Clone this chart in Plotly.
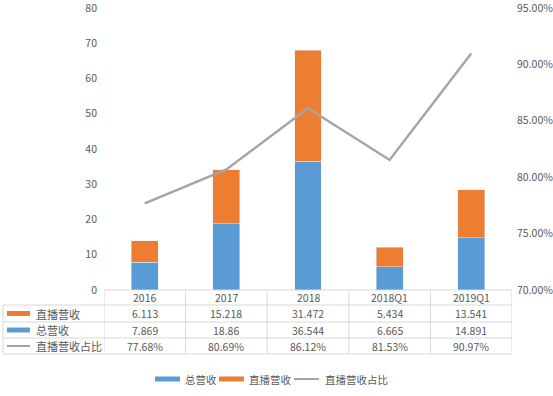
import plotly.graph_objects as go

categories = ["2016", "2017", "2018", "2018Q1", "2019Q1"]
live_rev = [6.113, 15.218, 31.472, 5.434, 13.541]      # 直播营收
total_rev = [7.869, 18.86, 36.544, 6.665, 14.891]      # 总营收
live_ratio = [0.7768, 0.8069, 0.8612, 0.8153, 0.9097]  # 直播营收占比

W, H = 553, 396
def px(x): return x / W
def py(y): return 1 - y / H

BLUE, ORANGE, GRAY = "#5B9BD5", "#ED7D31", "#A5A5A5"
TXT = "#595959"
GRID = "#D9D9D9"
FONT = "Noto Sans CJK SC"

PLOT_L, PLOT_R, PLOT_T, PLOT_B = 104, 512, 8, 290

fig = go.Figure()
fig.add_trace(go.Bar(x=categories, y=total_rev, name="总营收", marker_color=BLUE,
                     width=0.33, yaxis="y"))
fig.add_trace(go.Bar(x=categories, y=live_rev, name="直播营收", marker_color=ORANGE,
                     width=0.33, yaxis="y"))
fig.add_trace(go.Scatter(x=categories, y=live_ratio, name="直播营收占比", mode="lines",
                         line=dict(color=GRAY, width=2.5), yaxis="y2"))

shapes = []
annotations = []
rows = [
    ("直播营收", [str(v) for v in live_rev], "bar", ORANGE),
    ("总营收", [str(v) for v in total_rev], "bar", BLUE),
    ("直播营收占比", [f"{v*100:.2f}%" for v in live_ratio], "line", GRAY),
]
HEAD_B = 305
row_edges = [305, 322, 338, 354]
LEFT_EDGE = 3

# horizontal table lines
shapes.append(dict(type="line", xref="paper", yref="paper", x0=px(PLOT_L), x1=px(PLOT_R),
                   y0=py(PLOT_B), y1=py(PLOT_B), line=dict(color=GRID, width=1)))
for yt in row_edges:
    shapes.append(dict(type="line", xref="paper", yref="paper", x0=px(LEFT_EDGE), x1=px(PLOT_R),
                       y0=py(yt), y1=py(yt), line=dict(color=GRID, width=1)))
# vertical table lines
shapes.append(dict(type="line", xref="paper", yref="paper", x0=px(LEFT_EDGE), x1=px(LEFT_EDGE),
                   y0=py(row_edges[0]), y1=py(row_edges[-1]), line=dict(color=GRID, width=1)))
for i in range(len(categories) + 1):
    shapes.append(dict(type="line", xref="x", yref="paper", x0=i - 0.5, x1=i - 0.5,
                       y0=py(PLOT_B), y1=py(row_edges[-1]), line=dict(color=GRID, width=1)))

# header
for i, c in enumerate(categories):
    annotations.append(dict(x=i, y=py((PLOT_B + HEAD_B) / 2), xref="x", yref="paper", text=c,
                            showarrow=False, xanchor="center", yanchor="middle",
                            font=dict(family=FONT, size=10.5, color=TXT)))
for k, (label, vals, kind, col) in enumerate(rows):
    yc = (row_edges[k] + row_edges[k + 1]) / 2
    if kind == "bar":
        shapes.append(dict(type="rect", xref="paper", yref="paper", x0=px(7), x1=px(30),
                           y0=py(yc - 2.5), y1=py(yc + 2.5), fillcolor=col, line=dict(width=0)))
    else:
        shapes.append(dict(type="line", xref="paper", yref="paper", x0=px(7), x1=px(30),
                           y0=py(yc), y1=py(yc), line=dict(color=col, width=2)))
    annotations.append(dict(x=px(34), y=py(yc), xref="paper", yref="paper", text=label,
                            showarrow=False, xanchor="left", yanchor="middle",
                            font=dict(family=FONT, size=11, color=TXT)))
    for i, v in enumerate(vals):
        annotations.append(dict(x=i, y=py(yc), xref="x", yref="paper", text=v, showarrow=False,
                                xanchor="center", yanchor="middle",
                                font=dict(family=FONT, size=10.5, color=TXT)))

# bottom legend
leg_y = 379
legend_items = [("总营收", "bar", BLUE, 155, 183), ("直播营收", "bar", ORANGE, 219, 247),
                ("直播营收占比", "line", GRAY, 294, 323)]
for name, kind, col, x0, xt in legend_items:
    if kind == "bar":
        shapes.append(dict(type="rect", xref="paper", yref="paper", x0=px(x0), x1=px(x0 + 25),
                           y0=py(leg_y - 2.5), y1=py(leg_y + 2.5), fillcolor=col, line=dict(width=0)))
    else:
        shapes.append(dict(type="line", xref="paper", yref="paper", x0=px(x0), x1=px(x0 + 25),
                           y0=py(leg_y), y1=py(leg_y), line=dict(color=col, width=2)))
    annotations.append(dict(x=px(xt), y=py(leg_y), xref="paper", yref="paper", text=name,
                            showarrow=False, xanchor="left", yanchor="middle",
                            font=dict(family=FONT, size=10.5, color=TXT)))

fig.update_layout(
    width=W, height=H,
    margin=dict(l=0, r=0, t=0, b=0, autoexpand=False),
    paper_bgcolor="white", plot_bgcolor="white",
    barmode="stack", showlegend=False,
    xaxis=dict(domain=[px(PLOT_L), px(PLOT_R)], type="category", showticklabels=False,
               showline=False, showgrid=False, zeroline=False, range=[-0.5, 4.5],
               automargin=False),
    yaxis=dict(domain=[py(PLOT_B), py(PLOT_T)], range=[0, 80], dtick=10, showgrid=False,
               zeroline=False, showline=False, automargin=False, ticklabeloverflow="allow",
               ticklabelstandoff=6,
               tickfont=dict(family=FONT, size=10.5, color=TXT)),
    yaxis2=dict(domain=[py(PLOT_B), py(PLOT_T)], overlaying="y", side="right",
                range=[0.70, 0.95], dtick=0.05, tickformat=".2%", showgrid=False,
                zeroline=False, showline=False, ticklabelstandoff=4, automargin=False,
                ticklabeloverflow="allow",
                tickfont=dict(family=FONT, size=10.5, color=TXT)),
    shapes=shapes, annotations=annotations,
)

fig.write_html("out.html", config={"displayModeBar": False},
               post_script="document.body.style.margin='0px';")
